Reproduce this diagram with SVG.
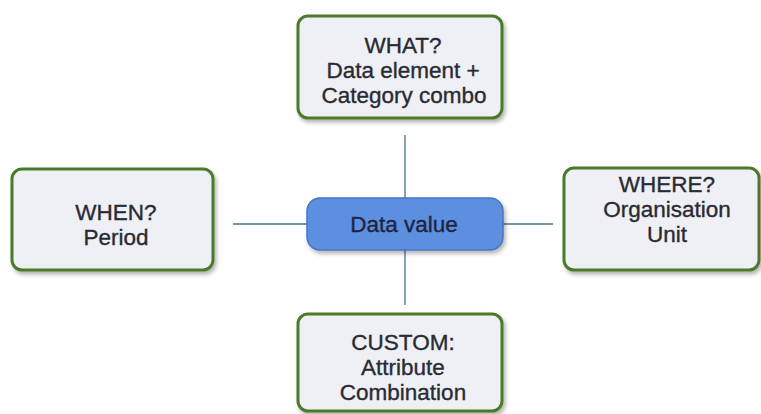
<svg xmlns="http://www.w3.org/2000/svg" width="761" height="414" viewBox="0 0 761 414">
  <defs>
    <filter id="shadow" x="-10%" y="-10%" width="125%" height="130%">
      <feGaussianBlur in="SourceAlpha" stdDeviation="2"/>
      <feOffset dx="2" dy="3" result="b"/>
      <feComponentTransfer><feFuncA type="linear" slope="0.3"/></feComponentTransfer>
      <feMerge><feMergeNode/><feMergeNode in="SourceGraphic"/></feMerge>
    </filter>
  </defs>
  <style>
    .box { fill: #eef0f5; stroke: #4c7a2a; stroke-width: 3; filter: url(#shadow); }
    .core { fill: #5b8fe0; stroke: #4a76c0; stroke-width: 1.5; filter: url(#shadow); }
    .link { stroke: #4a6f95; stroke-width: 1.3; fill: none; }
    text { font-family: "Liberation Sans", Arial, sans-serif; font-size: 22.5px; fill: #2a2a33; stroke: #2a2a33; stroke-width: 0.35; text-anchor: middle; }
    .core-label { fill: #1e2440; stroke: #1e2440; }
  </style>
  <rect width="761" height="414" fill="#ffffff"/>

  <g id="connectors">
    <line class="link" x1="405" y1="135" x2="405" y2="198"/>
    <line class="link" x1="405" y1="250" x2="405" y2="305"/>
    <line class="link" x1="233" y1="224" x2="307" y2="224"/>
    <line class="link" x1="503" y1="224" x2="553" y2="224"/>
  </g>

  <g id="what">
    <rect class="box" x="298" y="16" width="204" height="102" rx="10"/>
    <text x="403" y="53">WHAT?</text>
    <text x="403" y="78">Data element +</text>
    <text x="404" y="103">Category combo</text>
  </g>

  <g id="when">
    <rect class="box" x="12" y="169" width="201" height="101" rx="10"/>
    <text x="116" y="220">WHEN?</text>
    <text x="116" y="245">Period</text>
  </g>

  <g id="data-value">
    <rect class="core" x="307" y="198" width="196" height="52" rx="13"/>
    <text class="core-label" x="404" y="232">Data value</text>
  </g>

  <g id="where">
    <rect class="box" x="564" y="168" width="195" height="102" rx="10"/>
    <text x="667" y="192">WHERE?</text>
    <text x="667" y="217">Organisation</text>
    <text x="667" y="242">Unit</text>
  </g>

  <g id="custom">
    <rect class="box" x="298" y="314" width="204" height="97" rx="10"/>
    <text x="403" y="350">CUSTOM:</text>
    <text x="403" y="375">Attribute</text>
    <text x="403" y="400">Combination</text>
  </g>
</svg>
